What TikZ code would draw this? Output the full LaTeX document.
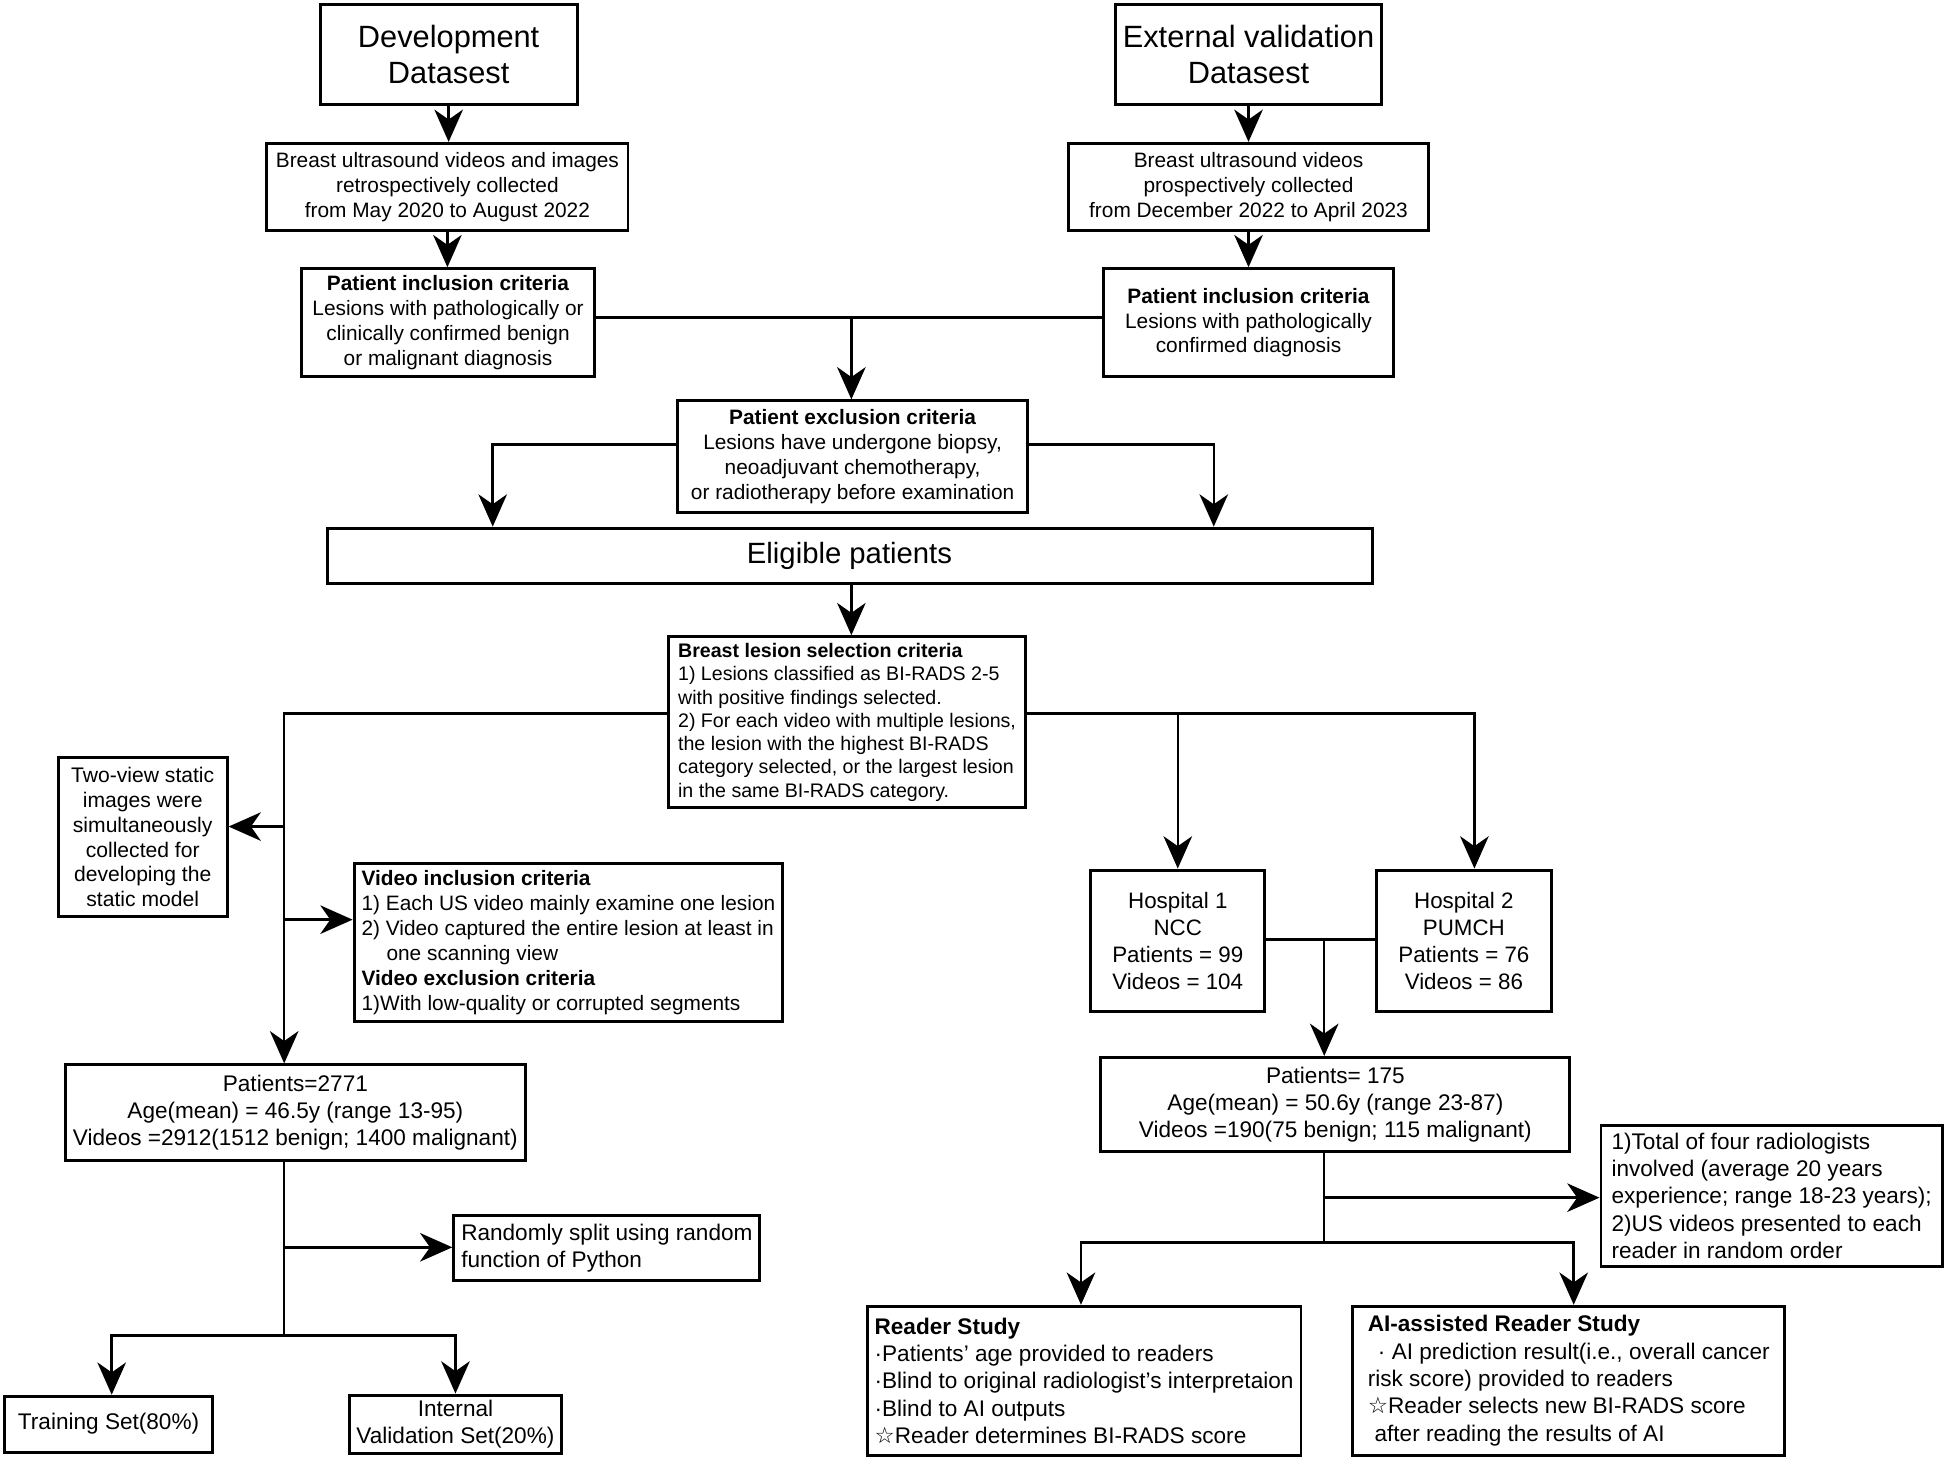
\documentclass[tikz,border=0pt]{standalone}
\usepackage{fontspec}
\setmainfont{Liberation Sans}
\newfontfamily\symfont{DejaVu Sans}
\usetikzlibrary{arrows.meta}
\begin{document}
\begin{tikzpicture}[x=0.5pt,y=-0.5pt,
  box/.style={draw,line width=1.2pt,inner xsep=3pt,inner ysep=2pt,align=center},
  lbox/.style={box,align=left},
  ln/.style={line width=1pt},
  arr/.style={line width=1pt,-{Stealth[length=13pt,width=11.5pt,inset=4pt]}},
  ttl/.style={font=\fontsize{12.4}{14.5}\selectfont},
  elg/.style={font=\fontsize{11.8}{14}\selectfont},
  sa/.style={font=\fontsize{8.4}{10}\selectfont},
  sl/.style={font=\fontsize{7.9}{9.35}\selectfont},
  sb/.style={font=\fontsize{9.1}{11}\selectfont},
  sh/.style={font=\fontsize{9}{10.85}\selectfont}]
\fill[white] (0,0) rectangle (1568,1180);
\useasboundingbox (0,0) rectangle (1568,1180);

% top
\node[box,ttl,minimum width=103.5pt,minimum height=40pt] (dev) at (361.5,44) {Development\\Datasest};
\node[box,ttl,minimum width=104pt,minimum height=40pt] (ext) at (1006,44) {External validation\\Datasest};
\node[box,sa,minimum width=145.5pt,minimum height=35pt] (bus1) at (360.5,150.5) {Breast ultrasound videos and images\\retrospectively collected\\from May 2020 to August 2022};
\node[box,sa,minimum width=145pt,minimum height=35pt] (bus2) at (1006,150.5) {Breast ultrasound videos\\prospectively collected\\from December 2022 to April 2023};
\node[box,sa,minimum width=118pt,minimum height=43.5pt] (inc1) at (361,260) {\textbf{Patient inclusion criteria}\\Lesions with pathologically or\\clinically confirmed benign\\or malignant diagnosis};
\node[box,sa,minimum width=117pt,minimum height=43.5pt] (inc2) at (1006,260) {\textbf{Patient inclusion criteria}\\Lesions with pathologically\\confirmed diagnosis};
\node[box,sa,minimum width=141pt,minimum height=45pt] (exc) at (687,368) {\textbf{Patient exclusion criteria}\\Lesions have undergone biopsy,\\neoadjuvant chemotherapy,\\or radiotherapy before examination};
\node[box,elg,minimum width=421pt,minimum height=22.5pt] (elig) at (684.5,448) {Eligible patients};
\node[lbox,sl,minimum width=143.5pt,minimum height=69pt] (les) at (682.5,582) {\textbf{Breast lesion selection criteria}\\1) Lesions classified as BI-RADS 2-5\\with positive findings selected.\\2) For each video with multiple lesions,\\the lesion with the highest BI-RADS\\category selected, or the largest lesion\\in the same BI-RADS category.};

% left branch
\node[box,font=\fontsize{8.5}{10}\selectfont,minimum width=68pt,minimum height=64pt] (two) at (115,674.5) {Two-view static\\images were\\simultaneously\\collected for\\developing the\\static model};
\node[lbox,sa,minimum width=171pt,minimum height=63.5pt] (vinc) at (458,759.5) {\textbf{Video inclusion criteria}\\1) Each US video mainly examine one lesion\\2) Video captured the entire lesion at least in\\\hspace*{1.2em}one scanning view\\\textbf{Video exclusion criteria}\\1)With low-quality or corrupted segments};
\node[box,sb,minimum width=183.5pt,minimum height=38.5pt] (p2771) at (238,896.5) {Patients=2771\\Age(mean) = 46.5y (range 13-95)\\Videos =2912(1512 benign; 1400 malignant)};
\node[lbox,sb,minimum width=123pt,minimum height=26.5pt] (rand) at (489,1005.5) {Randomly split using random\\function of Python};
\node[box,sb,minimum width=83.5pt,minimum height=22.5pt] (train) at (87.5,1147.5) {Training Set(80\%)};
\node[box,sb,minimum width=84pt,minimum height=22.5pt] (intv) at (367,1147.5) {Internal\\Validation Set(20\%)};

% right branch
\node[box,sh,minimum width=70pt,minimum height=57pt] (h1) at (949,758) {Hospital 1\\NCC\\Patients = 99\\Videos = 104};
\node[box,sh,minimum width=70.5pt,minimum height=57pt] (h2) at (1179.5,758) {Hospital 2\\PUMCH\\Patients = 76\\Videos = 86};
\node[box,sb,minimum width=189pt,minimum height=38pt] (p175) at (1076,890) {Patients= 175\\Age(mean) = 50.6y (range 23-87)\\Videos =190(75 benign; 115 malignant)};
\node[lbox,sb,minimum width=137.5pt,minimum height=57pt] (rad) at (1427.5,963.5) {1)Total of four radiologists\\involved (average 20 years\\experience; range 18-23 years);\\2)US videos presented to each\\reader in random order};
\node[lbox,sb,minimum width=173.5pt,minimum height=60pt] (rs) at (873.5,1112.5) {\textbf{Reader Study}\\·Patients' age provided to readers\\·Blind to original radiologist’s interpretaion\\·Blind to AI outputs\\{\symfont ☆}Reader determines BI-RADS score};
\node[lbox,sb,minimum width=174pt,minimum height=60pt] (ai) at (1264,1112.5) {\textbf{AI-assisted Reader Study}\\\hspace*{0.45em}· AI prediction result(i.e., overall cancer\\risk score) provided to readers\\{\symfont ☆}Reader selects new BI-RADS score\\\hspace*{0.3em}after reading the results of AI};

% connectors top
\draw[arr] (dev.south) -- (dev.south |- bus1.north);
\draw[arr] (bus1.south) -- (bus1.south |- inc1.north);
\draw[arr] (ext.south) -- (ext.south |- bus2.north);
\draw[arr] (bus2.south) -- (bus2.south |- inc2.north);
\coordinate (j1) at (686,256);
\draw[ln] (inc1.east |- j1) -- (inc2.west |- j1);
\draw[arr] (j1) -- (j1 |- exc.north);
\coordinate (eL) at (397,358);
\coordinate (eR) at (978,358);
\draw[arr] (exc.west |- eL) -| (eL |- elig.north);
\draw[arr] (exc.east |- eR) -| (eR |- elig.north);
\coordinate (cx) at (686,0);
\draw[arr] (elig.south -| cx) -- (cx |- les.north);

% left connectors
\coordinate (lx) at (229,575);
\draw[arr] (les.west |- lx) -| (lx |- p2771.north);
\coordinate (b1) at (229,666);
\draw[arr] (b1) -- (b1 -| two.east);
\coordinate (b2) at (229,741);
\draw[arr] (b2) -- (b2 -| vinc.west);
\coordinate (lb) at (229,1076);
\draw[ln] (p2771.south -| lb) -- (lb);
\coordinate (lr) at (229,1005);
\draw[arr] (lr) -- (lr -| rand.west);
\coordinate (tx) at (90,1076);
\coordinate (ix) at (367,1076);
\draw[arr] (lb) -| (tx |- train.north);
\draw[arr] (lb) -| (ix |- intv.north);

% right connectors
\coordinate (rx) at (1188,575);
\draw[arr] (les.east |- rx) -| (rx |- h2.north);
\coordinate (rh1) at (949,575);
\draw[arr] (rh1) -- (rh1 |- h1.north);
\coordinate (hj) at (1067,757);
\draw[ln] (h1.east |- hj) -- (h2.west |- hj);
\draw[arr] (hj) -- (hj |- p175.north);
\coordinate (bh) at (1067,1001);
\draw[ln] (p175.south -| bh) -- (bh);
\coordinate (bj) at (1067,965);
\draw[arr] (bj) -- (bj -| rad.west);
\coordinate (rsx) at (871,1001);
\coordinate (aix) at (1268,1001);
\draw[arr] (bh) -| (rsx |- rs.north);
\draw[arr] (bh) -| (aix |- ai.north);
\end{tikzpicture}
\end{document}
